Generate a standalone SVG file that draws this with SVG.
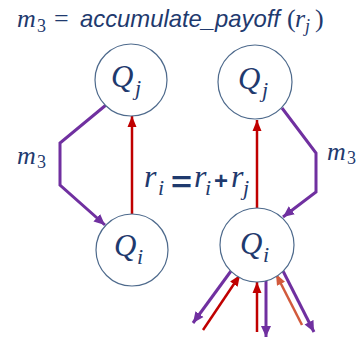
<svg xmlns="http://www.w3.org/2000/svg" width="356" height="337" viewBox="0 0 356 337">
<style>
.node circle{fill:#fff;stroke:#4E6A8C;stroke-width:1.2}
.math{font-family:"Liberation Serif","DejaVu Serif",serif;font-style:italic;fill:#1F3A6E}
.up{font-family:"Liberation Serif","DejaVu Serif",serif;font-style:normal;fill:#1F3A6E}
.sans{font-family:"Liberation Sans",Arial,sans-serif;font-style:italic;fill:#1F3A6E}
.op{font-family:"Liberation Sans",Arial,sans-serif;font-weight:bold;fill:#1F3A6E}
.p{fill:none;stroke:#7030A0;stroke-width:3}
.r{fill:none;stroke:#C00000;stroke-width:2.5}
.o{fill:none;stroke:#D25A3C;stroke-width:2.5}
</style>
<defs>
<marker id="ap" markerUnits="userSpaceOnUse" markerWidth="12" markerHeight="12" viewBox="0 0 12 12" refX="11" refY="6" orient="auto"><path d="M0,1 L11,6 L0,11 z" fill="#7030A0"/></marker>
<marker id="ar" markerUnits="userSpaceOnUse" markerWidth="12" markerHeight="12" viewBox="0 0 12 12" refX="11" refY="6" orient="auto"><path d="M0,1.5 L11,6 L0,10.5 z" fill="#C00000"/></marker>
<marker id="ao" markerUnits="userSpaceOnUse" markerWidth="12" markerHeight="12" viewBox="0 0 12 12" refX="11" refY="6" orient="auto"><path d="M0,1.5 L11,6 L0,10.5 z" fill="#D25A3C"/></marker>
</defs>

<g id="title">
<text class="math" x="17" y="27" font-size="26">m</text>
<text class="up" x="37" y="32" font-size="18">3</text>
<text class="up" x="54" y="27" font-size="26">=</text>
<text class="sans" x="80" y="27" font-size="24" textLength="200" lengthAdjust="spacingAndGlyphs">accumulate_payoff</text>
<text class="up" x="287" y="27" font-size="26">(</text>
<text class="math" x="295" y="27" font-size="26">r</text>
<text class="math" x="305" y="32" font-size="18">j</text>
<text class="up" x="315" y="27" font-size="26">)</text>
</g>

<g id="connectors">
<path class="p" d="M106,105 L60,143 L60,185 L105,225" marker-end="url(#ap)"/>
<path class="r" d="M132,214 L132,116" marker-end="url(#ar)"/>
<path class="r" d="M257,209 L257,120" marker-end="url(#ar)"/>
<path class="p" d="M282,108 L316,153 L316,192 L283,217" marker-end="url(#ap)"/>
<path class="p" d="M231,271 L193,323" marker-end="url(#ap)"/>
<path class="r" d="M203,330 L240,275" marker-end="url(#ar)"/>
<path class="r" d="M257,332 L257,282" marker-end="url(#ar)"/>
<path class="p" d="M266,281 L266,337" marker-end="url(#ap)"/>
<path class="o" d="M302,325 L276,274" marker-end="url(#ao)"/>
<path class="p" d="M283,271 L314,332" marker-end="url(#ap)"/>
</g>

<g id="Qj_left" class="node">
<circle cx="131" cy="80" r="36"/>
<text class="math" x="111" y="87" font-size="31">Q</text>
<text class="math" x="135" y="95" font-size="22">j</text>
</g>
<g id="Qi_left" class="node">
<circle cx="132" cy="250" r="36"/>
<text class="math" x="114" y="256" font-size="31">Q</text>
<text class="math" x="137" y="264" font-size="22">i</text>
</g>
<g id="Qj_right" class="node">
<circle cx="255" cy="82" r="37"/>
<text class="math" x="238" y="89" font-size="31">Q</text>
<text class="math" x="262" y="97" font-size="22">j</text>
</g>
<g id="Qi_right" class="node">
<circle cx="257" cy="245" r="37"/>
<text class="math" x="240" y="254" font-size="31">Q</text>
<text class="math" x="263" y="262" font-size="22">i</text>
</g>

<g id="labels">
<text class="math" x="17" y="164" font-size="26">m</text>
<text class="up" x="37" y="168" font-size="18">3</text>
<text class="math" x="327" y="160" font-size="26">m</text>
<text class="up" x="347" y="164" font-size="18">3</text>
<text class="math" x="144" y="187" font-size="32">r</text>
<text class="math" x="158" y="195" font-size="22">i</text>
<text class="op" x="171" y="192" font-size="30" textLength="21" lengthAdjust="spacingAndGlyphs">=</text>
<text class="math" x="194" y="187" font-size="32">r</text>
<text class="math" x="205" y="195" font-size="22">i</text>
<text class="op" x="214" y="189" font-size="24">+</text>
<text class="math" x="231" y="187" font-size="32">r</text>
<text class="math" x="243" y="195" font-size="22">j</text>
</g>
</svg>
